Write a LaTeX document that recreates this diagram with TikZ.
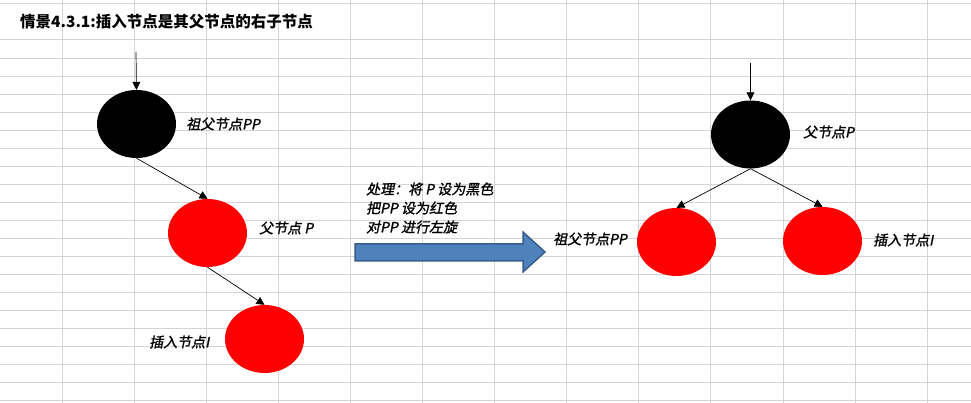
\documentclass[tikz,border=0pt]{standalone}
\usepackage{fontspec}
\setmainfont{Noto Sans CJK SC}
\newfontfamily\lblfont[FakeSlant=0.2,FakeBold=1.2]{Noto Sans CJK SC}
\usetikzlibrary{shapes.geometric,arrows.meta}
\definecolor{gridgray}{HTML}{D4D4D4}
\definecolor{nodered}{HTML}{FF0000}
\definecolor{arrowblue}{HTML}{4F81BD}
\definecolor{arrowedge}{HTML}{385D8A}
\tikzset{
  gridline/.style={gridgray, line width=1pt},
  rbnode/.style={ellipse, minimum width=79pt, minimum height=68pt, inner sep=0pt},
  blacknode/.style={rbnode, fill=black},
  rednode/.style={rbnode, fill=nodered},
  lbl/.style={anchor=west, inner sep=0pt, font=\lblfont\fontsize{14pt}{16pt}\selectfont},
  link/.style={-{Triangle[length=8pt,width=8pt]}, line width=0.7pt, black},
}
\begin{document}
\begin{tikzpicture}[x=1pt,y=-1pt]
\useasboundingbox[fill=white] (0,0) rectangle (971,403);
% spreadsheet grid
\foreach \k in {0,...,12} {
  \draw[gridline] ({62+72.1*\k},0) -- ({62+72.1*\k},403);
}
\draw[gridline] (0,4) -- (971,4);
\foreach \k in {0,...,20} {
  \draw[gridline] (0,{40+18.02*\k}) -- (971,{40+18.02*\k});
}
% title
\node[anchor=west, inner sep=0pt, font=\bfseries\fontsize{15.5pt}{18pt}\selectfont] (title) at (20,22) {情景4.3.1:插入节点是其父节点的右子节点};

% left tree
\coordinate (lin) at (136,52);
\node[blacknode] (lpp) at (136.5,124) {};
\node[rednode] (lp) at (207.5,233) {};
\node[rednode] (li) at (264.5,339) {};
\node[lbl] (lpplbl) at (186,124) {祖父节点PP};
\node[lbl] (lplbl) at (259,228) {父节点 P};
\node[lbl] (lilbl) at (149,342) {插入节点I};
\draw[link] (lin) -- (lpp.north);
\draw[link] (lpp.south) -- (lp.north);
\draw[link] (lp.south) -- (li.north);

% middle
\node[lbl] (t1) at (366,189) {处理：将 P 设为黑色};
\node[lbl] (t2) at (366,208) {把PP 设为红色};
\node[lbl] (t3) at (366,227) {对PP 进行左旋};
\draw[fill=arrowblue, draw=arrowedge, line width=1.5pt, line join=miter]
  (355,244) -- (523,244) -- (523,232) -- (545,252) -- (523,272) -- (523,261) -- (355,261) -- cycle;

% right tree
\coordinate (rin) at (750.5,63);
\node[blacknode] (rp) at (750.5,134.5) {};
\node[rednode] (rpp) at (676.5,242) {};
\node[rednode] (ri) at (822.5,241) {};
\node[lbl] (rplbl) at (803,132) {父节点P};
\node[lbl] (rpplbl) at (553,239) {祖父节点PP};
\node[lbl] (rilbl) at (873,240) {插入节点I};
\draw[link] (rin) -- (rp.north);
\draw[link] (rp.south) -- (rpp.north);
\draw[link] (rp.south) -- (ri.north);
\end{tikzpicture}
\end{document}
